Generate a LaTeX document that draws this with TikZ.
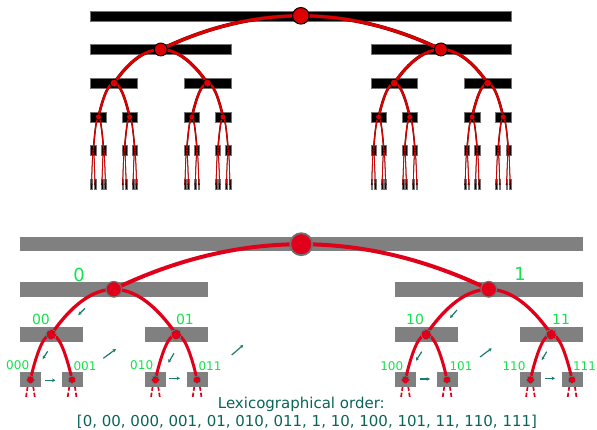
\documentclass[tikz,border=0pt]{standalone}
\usepackage{fontspec}
\setmainfont{DejaVu Sans}
\usetikzlibrary{arrows.meta,calc}
\definecolor{topred}{RGB}{220,0,0}
\definecolor{topedge}{RGB}{105,0,0}
\definecolor{cantred}{RGB}{225,0,25}
\definecolor{bargray}{RGB}{128,128,128}
\definecolor{rimgray}{RGB}{112,112,112}
\definecolor{labgreen}{RGB}{20,225,75}
\definecolor{stepteal}{RGB}{25,125,110}
\definecolor{textteal}{RGB}{10,100,88}
\pgfdeclarelayer{under}
\pgfsetlayers{under,main}

\begin{document}
\begin{tikzpicture}[x=1pt,y=-1pt,
  topbar/.style={rectangle, fill=black, draw=black!55, line width=0.5pt, inner sep=0pt, minimum height=10pt},
  botbar/.style={rectangle, fill=bargray, inner sep=0pt, minimum height=14.4pt},
  topknot/.style={circle, fill=topred, draw=black, inner sep=0pt},
  botknot/.style={circle, fill=cantred, inner sep=0pt},
  toplink/.style={draw=topred},
  toprim/.style={draw=topedge},
  botlink/.style={draw=cantred},
  stub/.style={draw=cantred, line width=1.7pt, dash pattern=on 5pt off 2pt},
  steparrow/.style={draw=stepteal, line width=1.2pt, -{Stealth[length=3.4pt,width=3.6pt]}},
  lab/.style={text=labgreen, inner sep=0pt, anchor=base},
]
\useasboundingbox (0,0) rectangle (597,429);

% ---------- upper tree: black Cantor bars, six levels ----------
\node[topbar, minimum width=420.3pt] (t-0-0) at (300.85,15.8) {};
\foreach \k in {0,...,4}{
  \pgfmathtruncatemacro\kk{\k+1}
  \pgfmathsetmacro\dx{420.3/3^(\k+1)}
  \pgfmathtruncatemacro\nn{2^\k-1}
  \foreach \i in {0,...,\nn}{
    \pgfmathtruncatemacro\lc{2*\i}
    \pgfmathtruncatemacro\rc{2*\i+1}
    \node[topbar, minimum width=\dx pt] (t-\kk-\lc) at ($(t-\k-\i)+(-\dx,33.67)$) {};
    \node[topbar, minimum width=\dx pt] (t-\kk-\rc) at ($(t-\k-\i)+(\dx,33.67)$) {};
  }
}
% parabolic links, parent to children
\foreach \k in {0,...,4}{
  \pgfmathtruncatemacro\kk{\k+1}
  \pgfmathsetmacro\dx{420.3/3^(\k+1)}
  \pgfmathsetmacro\lw{{3,2.5,2,1.2,0.7}[\k]}
  \pgfmathsetmacro\rim{{0.7,0.7,0.6,0.3,0.1}[\k]}
  \pgfmathtruncatemacro\nn{2^\k-1}
  \foreach \i in {0,...,\nn}{
    \pgfmathtruncatemacro\lc{2*\i}
    \pgfmathtruncatemacro\rc{2*\i+1}
    \foreach \c/\sg/\ng in {\lc/-1/1,\rc/1/-1}{
      \draw[toprim, line width=\lw pt+\rim pt] (t-\k-\i.center)
        .. controls +(\sg*\dx/3,0) and +(\ng*\dx/3,-22.45) .. (t-\kk-\c.center);
      \draw[toplink, line width=\lw pt] (t-\k-\i.center)
        .. controls +(\sg*\dx/3,0) and +(\ng*\dx/3,-22.45) .. (t-\kk-\c.center);
    }
  }
}
% knots
\foreach \k in {0,...,5}{
  \pgfmathsetmacro\rad{{8.3,6.5,4,3,1.6,0.9}[\k]}
  \pgfmathsetmacro\bw{{1,0.9,0.7,0.6,0.3,0.2}[\k]}
  \pgfmathtruncatemacro\nn{2^\k-1}
  \foreach \i in {0,...,\nn}
    \node[topknot, minimum size=2*\rad pt, line width=\bw pt] (tc-\k-\i) at (t-\k-\i) {};
}

% ---------- lower tree: grey bars, four levels ----------
\node[botbar, minimum width=562.5pt] (b-0-0) at (301.25,244.2) {};
\foreach \k in {0,...,2}{
  \pgfmathtruncatemacro\kk{\k+1}
  \pgfmathsetmacro\dx{562.5/3^(\k+1)}
  \pgfmathtruncatemacro\nn{2^\k-1}
  \foreach \i in {0,...,\nn}{
    \pgfmathtruncatemacro\lc{2*\i}
    \pgfmathtruncatemacro\rc{2*\i+1}
    \node[botbar, minimum width=\dx pt] (b-\kk-\lc) at ($(b-\k-\i)+(-\dx,45.1)$) {};
    \node[botbar, minimum width=\dx pt] (b-\kk-\rc) at ($(b-\k-\i)+(\dx,45.1)$) {};
  }
}
\foreach \k in {0,...,2}{
  \pgfmathtruncatemacro\kk{\k+1}
  \pgfmathsetmacro\dx{562.5/3^(\k+1)}
  \pgfmathsetmacro\lw{{4,3.3,3}[\k]}
  \pgfmathtruncatemacro\nn{2^\k-1}
  \foreach \i in {0,...,\nn}{
    \pgfmathtruncatemacro\lc{2*\i}
    \pgfmathtruncatemacro\rc{2*\i+1}
    \foreach \c/\sg/\ng in {\lc/-1/1,\rc/1/-1}
      \draw[botlink, line width=\lw pt] (b-\k-\i.center)
        .. controls +(\sg*\dx/3,0) and +(\ng*\dx/3,-30.07) .. (b-\kk-\c.center);
  }
}
% dashed beginnings of the next level, hidden under the leaf bars
\begin{pgfonlayer}{under}
  \clip (0,0) rectangle (597,396.5);
  \foreach \i in {0,...,7}{
    \pgfmathtruncatemacro\lc{2*\i}
    \pgfmathtruncatemacro\rc{2*\i+1}
    \coordinate (b-4-\lc) at ($(b-3-\i)+(-6.94,45.1)$);
    \coordinate (b-4-\rc) at ($(b-3-\i)+(6.94,45.1)$);
    \draw[stub] (b-3-\i.center) .. controls +(-2.31,0) and +(2.31,-30.07) .. (b-4-\lc);
    \draw[stub] (b-3-\i.center) .. controls +(2.31,0) and +(-2.31,-30.07) .. (b-4-\rc);
  }
\end{pgfonlayer}
\foreach \k in {0,...,3}{
  \pgfmathsetmacro\rad{{11,7.8,5.3,3.8}[\k]}
  \pgfmathsetmacro\bw{{1.8,1.2,0,0}[\k]}
  \pgfmathtruncatemacro\nn{2^\k-1}
  \foreach \i in {0,...,\nn}
    \node[botknot, minimum size=2*\rad pt, draw=rimgray, line width=\bw pt] (bc-\k-\i) at (b-\k-\i) {};
}

% ---------- address labels ----------
\begin{scope}[every node/.style={lab}]
  \node[font=\fontsize{18}{21}\selectfont] (l0) at (79,281.7) {0};
  \node[font=\fontsize{18}{21}\selectfont] (l1) at (520,280) {1};
  \node[font=\fontsize{14}{16}\selectfont] (l00) at (41,324.3) {00};
  \node[font=\fontsize{14}{16}\selectfont] (l01) at (185,324.3) {01};
  \node[font=\fontsize{14}{16}\selectfont] (l10) at (415,324.3) {10};
  \node[font=\fontsize{14}{16}\selectfont] (l11) at (561,324.3) {11};
  \node[font=\fontsize{12}{14}\selectfont] (l000) at (17.7,369) {000};
  \node[font=\fontsize{12}{14}\selectfont] (l001) at (85,370.7) {001};
  \node[font=\fontsize{12}{14}\selectfont] (l010) at (141.7,369) {010};
  \node[font=\fontsize{12}{14}\selectfont] (l011) at (210,370.7) {011};
  \node[font=\fontsize{12}{14}\selectfont] (l100) at (391.7,370) {100};
  \node[font=\fontsize{12}{14}\selectfont] (l101) at (461,370) {101};
  \node[font=\fontsize{12}{14}\selectfont] (l110) at (514,370) {110};
  \node[font=\fontsize{12}{14}\selectfont] (l111) at (584.5,370.7) {111};
\end{scope}

% ---------- traversal steps ----------
\draw[steparrow] (85,308.3) -- (78.3,315);
\draw[steparrow] (47.7,351.3) -- (42.7,359);
\draw[steparrow] (45,380.3) -- (55.5,380.3);
\draw[steparrow] (103.3,358.3) -- (116,349);
\draw[steparrow] (174,353.3) -- (168.3,362.7);
\draw[steparrow] (169,378.3) -- (180,378.3);
\draw[steparrow] (231.7,355) -- (243.3,345);
\draw[steparrow] (457,310) -- (450,318);
\draw[steparrow] (421.7,351.7) -- (416,360.7);
\draw[steparrow] (420,379) -- (430,379);
\draw[steparrow] (480,357) -- (491.7,348.3);
\draw[steparrow] (546.7,351.7) -- (541.7,360);
\draw[steparrow] (545,378.3) -- (555,378.3);

% ---------- caption ----------
\node[text=textteal, inner sep=0pt, anchor=base, font=\fontsize{15}{18}\selectfont]
  (caption) at (301.3,408.3) {Lexicographical order:};
\node[text=textteal, inner sep=0pt, anchor=base, font=\fontsize{15}{18}\selectfont]
  (order) at (307,426) {[0, 00, 000, 001, 01, 010, 011, 1, 10, 100, 101, 11, 110, 111]};
\end{tikzpicture}
\end{document}
